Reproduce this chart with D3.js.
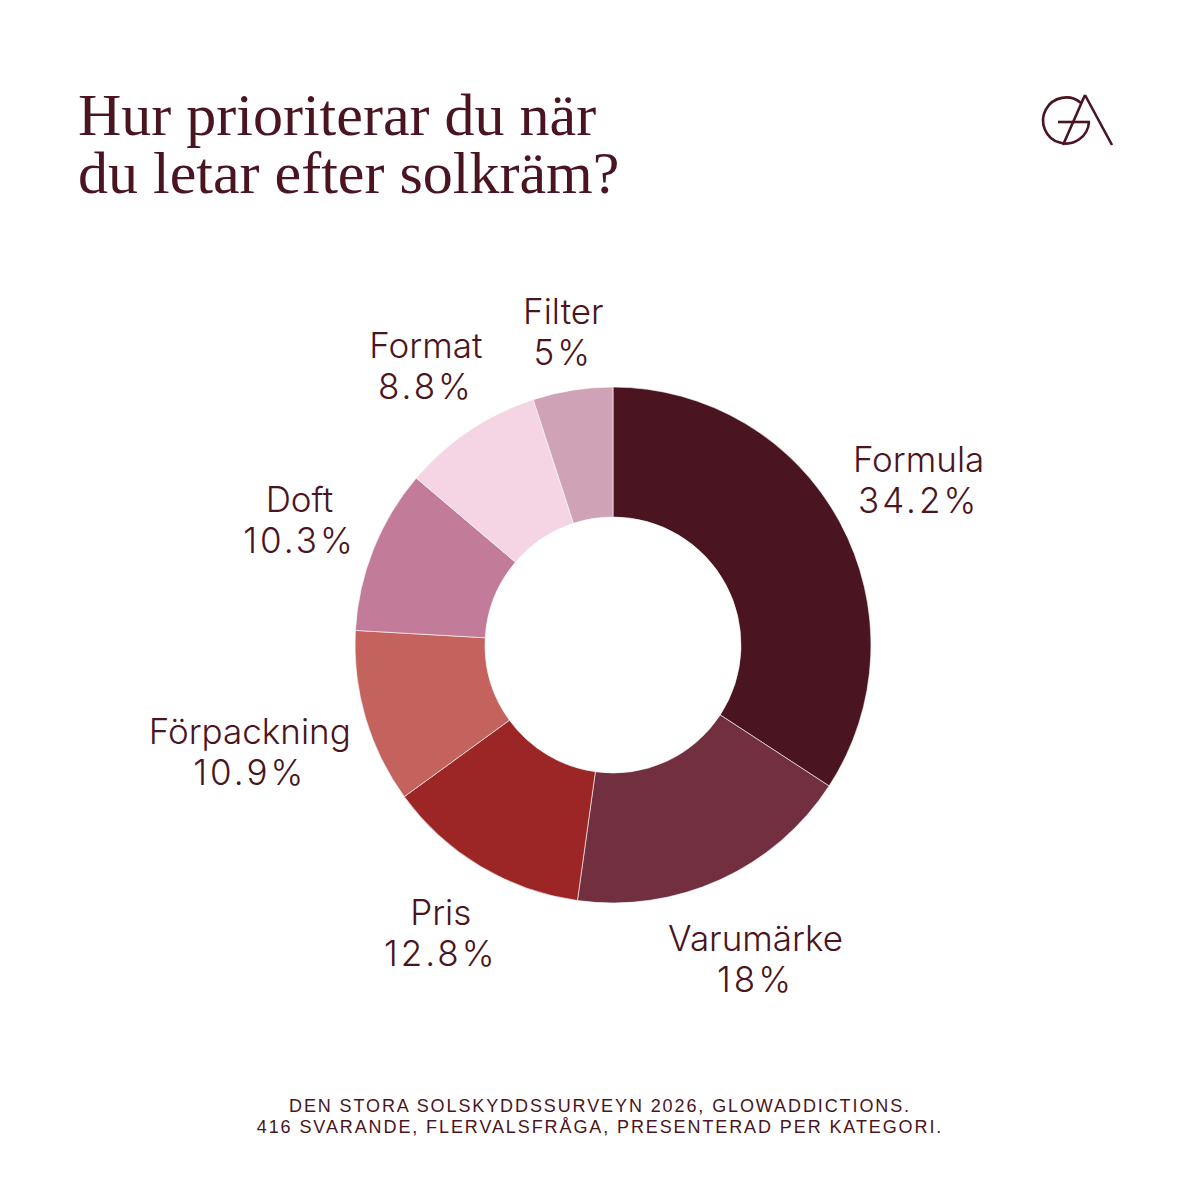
<!DOCTYPE html>
<html>
<head>
<meta charset="utf-8">
<script src="https://cdn.jsdelivr.net/npm/d3@7"></script>
<style>
  body { margin: 0; background: #fff; }
  svg { display: block; }
</style>
</head>
<body>
<div class="chart"></div>
<script>
var categories = ['Formula', 'Varumärke', 'Pris', 'Förpackning', 'Doft', 'Format', 'Filter'];
var values = [34.2, 18, 12.8, 10.9, 10.3, 8.8, 5];
var colors = ['#4a1420', '#722f3f', '#9c2626', '#c4625d', '#c27b98', '#f5d4e3', '#cfa2b5'];
var titleLines = ['Hur prioriterar du när', 'du letar efter solkräm?'];
var footerLines = ['DEN STORA SOLSKYDDSSURVEYN 2026, GLOWADDICTIONS.', '416 SVARANDE, FLERVALSFRÅGA, PRESENTERAD PER KATEGORI.'];

var width = 1200;
var height = 1200;
var ink = '#4a1420';

var svg = d3.select('.chart')
    .append('svg')
    .attr('width', width)
    .attr('height', height);

// title
svg.append('g')
    .selectAll('text')
    .data(titleLines)
    .enter()
    .append('text')
    .attr('x', 78)
    .attr('y', (d, i) => 135 + i * 58)
    .style('font-family', '"Liberation Serif", "DejaVu Serif", serif')
    .style('font-size', '60px')
    .style('fill', ink)
    .text(d => d);

// logo
var logo = svg.append('g')
    .attr('fill', 'none')
    .attr('stroke', ink)
    .attr('stroke-width', 2.6);
logo.append('path')
    .attr('d', 'M1081,103 A23,23 0 1 0 1089,122');
logo.append('line').attr('x1', 1058).attr('y1', 122).attr('x2', 1090).attr('y2', 122);
logo.append('line').attr('x1', 1085).attr('y1', 95).attr('x2', 1063).attr('y2', 145);
logo.append('line').attr('x1', 1085).attr('y1', 95).attr('x2', 1112).attr('y2', 145);

// donut
var cx = 613, cy = 645;
var outer = 258, inner = 128;

var data = categories.map((c, i) => ({ name: c, value: values[i], color: colors[i] }));

var pie = d3.pie()
    .sort(null)
    .value(d => d.value);

var arc = d3.arc()
    .innerRadius(inner)
    .outerRadius(outer);

var arcs = pie(data);

var chart = svg.append('g')
    .attr('transform', `translate(${cx}, ${cy})`);

chart.selectAll('.slice')
    .data(arcs)
    .enter()
    .append('path')
    .attr('class', 'slice')
    .attr('d', arc)
    .attr('fill', d => d.data.color)
    .attr('stroke', '#fff')
    .attr('stroke-width', 0.6);

// labels outside, pushed out by their own box size
var labels = chart.selectAll('.label')
    .data(arcs)
    .enter()
    .append('g')
    .attr('class', 'label');

labels.append('text')
    .style('font-family', 'Inter, "Liberation Sans", sans-serif')
    .style('font-weight', 300)
    .style('font-size', '35px')
    .style('fill', ink)
    .style('text-anchor', 'middle')
    .each(function (d) {
        var t = d3.select(this);
        t.append('tspan').attr('x', 0).attr('y', -8).text(d.data.name);
        t.append('tspan').attr('x', 0).attr('y', 33)
            .style('letter-spacing', '3px')
            .text(d.data.value + '%');
    });

labels.attr('transform', function (d) {
    var box = this.getBBox();
    var a = (d.startAngle + d.endAngle) / 2;
    var s = Math.sin(a), c = Math.cos(a);
    var r = outer + 12 + Math.abs(s) * box.width / 2 + Math.abs(c) * box.height / 2;
    var bx = box.x + box.width / 2, by = box.y + box.height / 2;
    return `translate(${r * s - bx}, ${-r * c - by})`;
});

// footer
svg.append('g')
    .selectAll('text')
    .data(footerLines)
    .enter()
    .append('text')
    .attr('x', 600)
    .attr('y', (d, i) => 1112 + i * 21)
    .style('text-anchor', 'middle')
    .style('font-family', '"Liberation Sans", sans-serif')
    .style('font-size', '18px')
    .style('letter-spacing', '1.9px')
    .style('fill', ink)
    .text(d => d);
</script>
</body>
</html>
